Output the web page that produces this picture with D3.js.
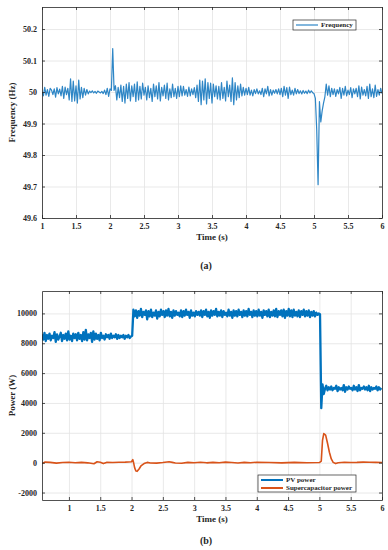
<!DOCTYPE html>
<html><head><meta charset="utf-8">
<script src="https://cdn.jsdelivr.net/npm/d3@7"></script>
<style>
body{margin:0;background:#fff}
svg{display:block}
text{font-family:"Liberation Serif","Times New Roman",serif;font-weight:bold;fill:#262626}
</style>
</head><body>
<svg id="c" width="388" height="550"></svg>
<script>
// ---------- Data ----------
const freqXTicks = [1,1.5,2,2.5,3,3.5,4,4.5,5,5.5,6];
const freqYTicks = [49.6,49.7,49.8,49.9,50,50.1,50.2];
const freqStart = 1.0, freqStep = 0.02;
const freqValues = [
50.000,49.988,50.015,49.990,50.008,49.986,50.012,50.006,49.992,50.010,49.984,50.014,49.994,50.009,49.988,50.018,49.980,50.016,49.992,50.012,
49.975,50.042,49.970,50.035,49.972,50.020,49.965,50.038,49.978,50.015,
49.982,50.012,49.990,50.008,49.994,
50.003,49.998,50.004,49.997,50.002,49.996,50.003,50.000,49.997,50.002,49.995,50.006,49.992,
50.012,49.986,50.010,50.005,
50.138,
50.005,50.020,49.975,50.015,49.982,50.022,49.970,50.018,
49.965,50.025,49.980,50.030,49.972,50.020,49.985,50.025,49.970,50.032,49.975,50.018,49.978,50.028,49.990,50.015,49.975,50.020,49.982,50.012,
49.970,50.025,49.985,50.020,49.978,50.030,49.972,50.015,49.988,50.022,49.980,50.028,49.975,50.010,49.982,50.025,49.985,50.012,49.980,50.018,
49.985,50.020,49.988,50.018,49.990,50.008,49.986,50.016,49.988,50.010,49.992,50.014,49.982,50.022,
49.970,50.038,49.960,50.035,49.975,50.042,49.962,50.030,49.980,50.028,49.965,50.025,49.985,50.020,49.978,
50.018,49.975,50.030,49.980,50.015,49.972,50.035,49.985,50.022,49.970,50.045,49.960,50.030,49.975,50.020,49.982,50.025,49.988,50.015,49.990,
50.012,49.992,50.015,49.990,50.006,49.988,50.008,49.995,50.010,49.994,50.004,49.992,50.012,49.985,50.010,49.994,50.018,49.988,50.008,49.990,50.006,49.996,50.008,49.994,50.010,
49.992,50.012,49.985,50.018,49.990,50.014,49.980,50.016,49.992,50.006,49.990,50.012,49.994,50.008,49.995,50.004,49.994,50.005,49.996,50.003,49.995,50.006,49.997,50.004,49.998,
49.995,
49.980,49.880,49.706,49.970,49.905,49.940,49.965,49.985,50.025,
49.990,50.020,49.985,50.012,49.992,50.010,49.986,50.008,49.994,50.015,49.980,50.012,49.990,50.018,49.988,50.006,49.992,50.014,49.982,50.010,
49.994,50.012,49.985,50.020,49.978,50.016,49.990,50.008,49.988,50.018,49.980,50.025,49.985,50.010,49.982,50.022,49.986,50.008,49.990,50.012,49.995
];

const pvXTicks = [1,1.5,2,2.5,3,3.5,4,4.5,5,5.5,6];
const pvYTicks = [-2000,0,2000,4000,6000,8000,10000];
const pvStart = 0.57, pvStep = 0.02;
const pvValues = [
8600,8250,8700,8150,8550,8300,8650,8200,8500,8350,
8750,8100,8600,8250,8450,8700,8150,8550,8300,8650,
8200,8800,8250,8500,8150,8650,8350,8600,8200,8700,
8300,8550,8150,8750,8250,8900,8200,8600,8350,8700,
8100,8800,8250,8650,8300,8550,8200,8700,8350,8500,
8250,8600,8400,8550,8300,8650,8350,8500,8400,8600,
8300,8550,8350,8500,8400,8550,8300,8500,8400,8550,
8350,8450,8500,
10250,9800,10200,9700,10150,9850,10300,9750,10100,9900,
10200,9600,10150,9800,10250,9750,10050,9850,10200,9650,
10100,9800,10250,9900,10150,9750,10200,9850,10300,9800,
10100,9700,10200,9850,10150,9900,10050,9800,10200,9750,
10150,9850,10250,9900,10100,9700,10200,9850,10050,9800,
10150,9900,10100,9850,10200,9750,10150,9900,10250,9800,
10100,9700,10200,9850,10150,9900,10300,9800,10100,9850,
10200,9750,10150,9900,10050,9800,10250,9850,10100,9700,
10200,9850,10150,9800,10250,9900,10100,9750,10200,9850,
10150,9800,10300,9900,10100,9750,10200,9850,10150,9800,
10250,9850,10100,9700,10200,9900,10150,9800,10250,9750,
10100,9850,10200,9800,10300,9750,10150,9900,10200,9800,
10250,9700,10150,9850,10300,9800,10200,9750,10250,9850,
10100,9800,10200,9750,10150,9900,10250,9800,10150,9850,
10200,9750,10100,9850,10150,9800,10050,9900,10000,9950,
3650,5250,4600,
4950,5150,4850,5050,4900,5100,4850,5000,4950,5150,
4800,5050,4900,5000,4850,5200,4750,5050,4900,5100,
4950,5000,4850,5150,4900,5050,4800,5200,4850,5000,
4950,5100,4900,5050,4850,5150,4800,5050,4900,5000,
4950,5100,4850,5050,4900,5000
];

const scTimes = [0.57,0.62,0.7,0.8,0.9,1.0,1.1,1.2,1.3,1.4,1.45,1.5,1.55,1.6,1.7,1.8,1.9,2.0,2.02,2.03,
 2.05,2.07,2.09,2.12,2.15,2.2,2.25,2.3,2.4,2.5,2.6,2.65,2.7,2.8,2.9,3.0,3.1,3.2,3.3,3.4,
 3.5,3.6,3.7,3.8,3.9,4.0,4.2,4.4,4.6,4.8,5.0,5.03,5.05,5.07,5.1,5.13,5.16,5.19,5.22,5.26,
 5.3,5.4,5.5,5.6,5.7,5.8,5.9,6.0];
const scValues = [-60,40,20,-30,10,30,0,20,-10,-70,60,30,-60,20,10,30,40,60,200,50,
 -350,-560,-580,-420,-220,-60,20,-20,-30,10,60,20,-20,-40,20,0,30,-10,20,0,
 40,10,-20,20,0,30,10,-10,20,0,10,100,1500,1950,1850,1300,700,250,20,-60,
 0,30,10,20,40,30,20,10];

// ---------- Drawing ----------
const svg = d3.select("#c");
svg.append("rect").attr("width",388).attr("height",550).attr("fill","#fff");
const axisCol = "#262626", gridCol = "#e3e3e3";

function panel(o){
  const g = svg.append("g");
  const x = d3.scaleLinear().domain(o.xd).range([o.left,o.right]);
  const y = d3.scaleLinear().domain(o.yd).range([o.bottom,o.top]);
  const w = o.right-o.left, h = o.bottom-o.top;
  g.append("g").attr("transform",`translate(0,${o.bottom})`)
   .call(d3.axisBottom(x).tickValues(o.xt).tickSize(-h).tickFormat(""))
   .call(s=>{s.select(".domain").remove();s.selectAll("line").attr("stroke",gridCol).attr("stroke-width",0.8);});
  g.append("g").attr("transform",`translate(${o.left},0)`)
   .call(d3.axisLeft(y).tickValues(o.yt).tickSize(-w).tickFormat(""))
   .call(s=>{s.select(".domain").remove();s.selectAll("line").attr("stroke",gridCol).attr("stroke-width",0.8);});
  const clipId = "clip"+o.id;
  svg.append("clipPath").attr("id",clipId).append("rect")
    .attr("x",o.left).attr("y",o.top).attr("width",w).attr("height",h);
  const dg = g.append("g").attr("clip-path",`url(#${clipId})`);
  o.series.forEach(s=>{
    dg.append("path").datum(s.pts)
      .attr("fill","none").attr("stroke",s.color).attr("stroke-width",s.sw)
      .attr("stroke-linejoin","round")
      .attr("d",d3.line().x(d=>x(d[0])).y(d=>y(d[1])));
  });
  const fmt = d=>String(d);
  const ax = g.append("g").attr("transform",`translate(0,${o.bottom})`)
   .call(d3.axisBottom(x).tickValues(o.xt).tickSizeInner(-3).tickSizeOuter(0).tickPadding(5).tickFormat(fmt));
  const ay = g.append("g").attr("transform",`translate(${o.left},0)`)
   .call(d3.axisLeft(y).tickValues(o.yt).tickSizeInner(-3).tickSizeOuter(0).tickPadding(5).tickFormat(fmt));
  const axT = g.append("g").attr("transform",`translate(0,${o.top})`)
   .call(d3.axisTop(x).tickValues(o.xt).tickSizeInner(-3).tickSizeOuter(0).tickFormat(""));
  const ayR = g.append("g").attr("transform",`translate(${o.right},0)`)
   .call(d3.axisRight(y).tickValues(o.yt).tickSizeInner(-3).tickSizeOuter(0).tickFormat(""));
  [ax,ay,axT,ayR].forEach(a=>{
    a.selectAll("path").attr("stroke",axisCol).attr("stroke-width",0.8);
    a.selectAll("line").attr("stroke",axisCol).attr("stroke-width",0.8);
    a.selectAll("text").attr("font-size",8).attr("font-family","Liberation Serif, serif")
      .attr("font-weight","bold").attr("fill",axisCol);
  });
  g.append("text").attr("x",(o.left+o.right)/2).attr("y",o.bottom+22).attr("text-anchor","middle")
   .attr("font-size",9).text(o.xlabel);
  g.append("text").attr("transform",`translate(${o.ylabX},${(o.top+o.bottom)/2}) rotate(-90)`)
   .attr("text-anchor","middle").attr("font-size",9).text(o.ylabel);
  g.append("text").attr("x",o.capX).attr("y",o.capY).attr("text-anchor","middle")
   .attr("font-size",10).text(o.caption);
  const L = o.legend;
  g.append("rect").attr("x",L.x).attr("y",L.y).attr("width",L.w).attr("height",L.h)
   .attr("fill","#fff").attr("stroke",axisCol).attr("stroke-width",0.7);
  L.items.forEach((it,i)=>{
    const yy = L.y + L.pad + i*L.row;
    g.append("line").attr("x1",L.x+3).attr("x2",L.x+3+L.lineLen).attr("y1",yy).attr("y2",yy)
     .attr("stroke",it.color).attr("stroke-width",it.sw);
    g.append("text").attr("x",L.x+6+L.lineLen).attr("y",yy).attr("dy","0.33em")
     .attr("font-size",7).text(it.name);
  });
}

const freqPts = freqValues.map((v,i)=>[freqStart+i*freqStep, v]);
const pvPts = pvValues.map((v,i)=>[pvStart+i*pvStep, v]);
const scPts = scValues.map((v,i)=>[scTimes[i], v]);

panel({id:"a", left:42, right:382, top:7, bottom:218, xd:[1,6], yd:[49.6,50.27],
  xt:freqXTicks, yt:freqYTicks, xlabel:"Time (s)", ylabel:"Frequency (Hz)", ylabX:15,
  caption:"(a)", capX:206, capY:269,
  series:[{pts:freqPts,color:"#2e86c6",sw:1.2}],
  legend:{x:293,y:20,w:63,h:10,pad:5,row:8,lineLen:22,items:[{name:"Frequency",color:"#2e86c6",sw:1.2}]}
});
panel({id:"b", left:42, right:382, top:291, bottom:500, xd:[0.57,6], yd:[-2500,11500],
  xt:pvXTicks, yt:pvYTicks, xlabel:"Time (s)", ylabel:"Power (W)", ylabX:15,
  caption:"(b)", capX:206, capY:544,
  series:[{pts:pvPts,color:"#0072BD",sw:2.3},{pts:scPts,color:"#D95319",sw:1.6}],
  legend:{x:258,y:475,w:98,h:17,pad:5,row:8,lineLen:22,items:[
    {name:"PV power",color:"#0072BD",sw:2},{name:"Supercapacitor power",color:"#D95319",sw:2}]}
});
</script>
</body></html>
